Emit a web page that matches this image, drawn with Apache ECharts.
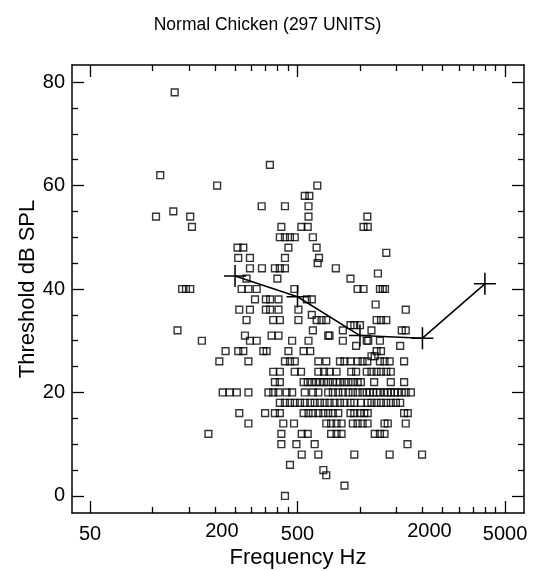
<!DOCTYPE html>
<html>
<head>
<meta charset="utf-8">
<script src="https://cdn.jsdelivr.net/npm/echarts@6/dist/echarts.min.js"></script>
<style>
  html, body { margin: 0; padding: 0; background: #fff; }
  #chart { width: 535px; height: 571px; }
</style>
</head>
<body>
<div id="chart"></div>
<script>
// ---------------- DATA ----------------
// Threshold rows (dB SPL) and the characteristic frequencies (Hz) of the units on each row
const rowThresholdDb = [78, 64, 62, 60, 58, 56, 55, 54, 52, 50, 48, 47, 46, 45, 44, 43, 42, 40, 38, 37, 36, 35, 34, 33, 32, 31, 30, 29, 28, 27, 26, 24, 22, 20, 18, 16, 14, 12, 10, 8, 6, 5, 4, 2, 0];
const rowFreqHz = [
  [128],
  [368],
  [109],
  [205, 623],
  [542, 570],
  [336, 435, 565],
  [126],
  [104, 152, 565, 1085],
  [155, 418, 522, 560, 1040, 1090],
  [411, 435, 460, 485, 593],
  [257, 274, 452, 618],
  [1339],
  [259, 295, 435, 635],
  [625],
  [295, 337, 389, 411, 435, 765],
  [1220],
  [284, 400, 900],
  [139, 145, 152, 269, 290, 318, 483, 974, 1040, 1248, 1287, 1320],
  [312, 352, 369, 405, 554, 586],
  [1190],
  [262, 295, 352, 369, 405, 505, 1662],
  [586],
  [284, 382, 411, 505, 618, 653, 688, 1203, 1263, 1339],
  [900, 939, 1000],
  [132, 593, 827, 1136, 1590, 1662],
  [279, 375, 405, 703, 713],
  [173, 295, 318, 471, 565, 827, 1078, 1096, 1248],
  [958, 1562],
  [225, 259, 274, 342, 355, 452, 535, 576, 1203, 1263],
  [1136, 1178],
  [210, 290, 435, 460, 485, 630, 688, 801, 842, 900, 974, 1029, 1085, 1248, 1313, 1390, 1632],
  [382, 411, 485, 520, 630, 671, 713, 771, 907, 958, 1078, 1136, 1203, 1263, 1339, 1408],
  [389, 411, 535, 560, 586, 614, 641, 671, 703, 740, 771, 801, 842, 880, 924, 974, 1010, 1170, 1408, 1632],
  [218, 235, 255, 290, 362, 382, 405, 443, 471, 542, 593, 630, 703, 740, 786, 827, 880, 924, 974, 1029, 1077, 1116, 1157, 1203, 1248, 1313, 1361, 1408, 1464, 1520, 1590, 1662, 1760],
  [411, 435, 460, 485, 514, 542, 576, 605, 641, 675, 713, 754, 801, 842, 900, 939, 1010, 1088, 1136, 1203, 1263, 1339, 1408, 1490, 1562],
  [262, 349, 389, 411, 535, 565, 593, 630, 666, 703, 740, 786, 900, 939, 1000, 1049, 1090, 1632, 1700],
  [290, 427, 481, 688, 726, 771, 815, 924, 974, 1029, 1088, 1313, 1361, 1662],
  [186, 418, 524, 560, 726, 771, 815, 1178, 1248, 1313],
  [418, 494, 605, 1694],
  [524, 630, 939, 1390, 1992],
  [460],
  [666],
  [688],
  [842],
  [435]
];

// Mean threshold curve at octave frequencies
const meanFreqHz = [250, 500, 1000, 2000, 4000];
const meanThresholdDb = [42.5, 38.5, 31, 30.5, 41];

// Tick labels
const xMajorLabelsHz = [50, 500, 5000];
const xMinorLabelsHz = [200, 2000];
const xMajorTicksHz = [50, 500, 5000];
const xMinorTicksHz = [100, 150, 200, 250, 300, 350, 400, 450, 1000, 1500, 2000, 2500, 3000, 3500, 4000, 4500];
const yMajorTicks = [0, 20, 40, 60, 80];
const yMinorTicks = [5, 10, 15, 25, 30, 35, 45, 50, 55, 65, 70, 75];

// ---------------- CHART ----------------
const lg = v => Math.log10(v);
const X_MIN = 1.6122, X_MAX = 3.7905;
const Y_MIN = -3.3, Y_MAX = 83.3;
const FONT = '"Liberation Sans", Arial, Helvetica, sans-serif';
const BLACK = '#000';

const unitData = [];
rowThresholdDb.forEach((db, i) => {
  rowFreqHz[i].forEach(f => unitData.push([lg(f), db]));
});
const meanData = meanFreqHz.map((f, i) => [lg(f), meanThresholdDb[i]]);

function axisX(position, opts) {
  return Object.assign({
    type: 'value', position: position, min: X_MIN, max: X_MAX,
    axisLine: { show: false, onZero: false },
    splitLine: { show: false },
    axisLabel: { show: false },
    axisTick: { show: false }
  }, opts);
}
function axisY(position, opts) {
  return Object.assign({
    type: 'value', position: position, min: Y_MIN, max: Y_MAX,
    axisLine: { show: false, onZero: false },
    splitLine: { show: false },
    axisLabel: { show: false },
    axisTick: { show: false }
  }, opts);
}
const lineStyle = { color: BLACK, width: 1.5 };
const tickStyle = { color: BLACK, width: 1.3 };
const labelStyle = { color: BLACK, fontSize: 20, fontFamily: FONT };
const nameStyle = { color: BLACK, fontSize: 22, fontFamily: FONT };

const option = {
  animation: false,
  backgroundColor: '#fff',
  title: {
    text: 'Normal Chicken (297 UNITS)',
    left: 'center',
    top: 11,
    textStyle: { color: BLACK, fontSize: 17.5, fontWeight: 'normal', fontFamily: FONT }
  },
  grid: { left: 72, top: 65, width: 452, height: 448, containLabel: false, outerBoundsMode: 'none' },
  xAxis: [
    axisX('bottom', {
      axisLine: { show: true, onZero: false, lineStyle: lineStyle },
      axisTick: { show: true, inside: true, length: 12, lineStyle: tickStyle, customValues: xMajorTicksHz.map(lg) },
      axisLabel: Object.assign({ show: true, margin: 11, customValues: xMajorLabelsHz.map(lg),
        formatter: v => String(Math.round(Math.pow(10, v))) }, labelStyle),
      name: 'Frequency Hz', nameLocation: 'middle', nameGap: 34, nameMoveOverlap: false,
      nameTextStyle: nameStyle
    }),
    axisX('bottom', {
      axisTick: { show: true, inside: true, length: 6, lineStyle: tickStyle, customValues: xMinorTicksHz.map(lg) },
      axisLabel: Object.assign({ show: true, margin: 8, padding: [0, 0, 0, 14], customValues: xMinorLabelsHz.map(lg),
        formatter: v => String(Math.round(Math.pow(10, v))) }, labelStyle)
    }),
    axisX('top', {
      axisLine: { show: true, onZero: false, lineStyle: lineStyle },
      axisTick: { show: true, inside: true, length: 12, lineStyle: tickStyle, customValues: xMajorTicksHz.map(lg) }
    }),
    axisX('top', {
      axisTick: { show: true, inside: true, length: 6, lineStyle: tickStyle, customValues: xMinorTicksHz.map(lg) }
    })
  ],
  yAxis: [
    axisY('left', {
      axisLine: { show: true, onZero: false, lineStyle: lineStyle },
      axisTick: { show: true, inside: true, length: 12, lineStyle: tickStyle, customValues: yMajorTicks },
      axisLabel: Object.assign({ show: true, margin: 7, customValues: yMajorTicks }, labelStyle),
      name: 'Threshold dB SPL', nameLocation: 'middle', nameGap: 33, nameMoveOverlap: false,
      nameTextStyle: nameStyle
    }),
    axisY('left', {
      axisTick: { show: true, inside: true, length: 6, lineStyle: tickStyle, customValues: yMinorTicks }
    }),
    axisY('right', {
      axisLine: { show: true, onZero: false, lineStyle: lineStyle },
      axisTick: { show: true, inside: true, length: 12, lineStyle: tickStyle, customValues: yMajorTicks }
    }),
    axisY('right', {
      axisTick: { show: true, inside: true, length: 6, lineStyle: tickStyle, customValues: yMinorTicks }
    })
  ],
  series: [
    {
      type: 'scatter',
      xAxisIndex: 0, yAxisIndex: 0,
      data: unitData,
      symbol: 'rect',
      symbolSize: 6.8,
      itemStyle: { color: 'rgba(255,255,255,0)', borderColor: BLACK, borderWidth: 1.4 },
      emphasis: { disabled: true },
      silent: true
    },
    {
      type: 'line',
      xAxisIndex: 0, yAxisIndex: 0,
      data: meanData,
      symbol: 'path://M9.3,0H10.7V9.3H20V10.7H10.7V20H9.3V10.7H0V9.3H9.3Z',
      symbolSize: 22,
      showSymbol: true,
      itemStyle: { color: BLACK },
      lineStyle: { color: BLACK, width: 1.5 },
      emphasis: { disabled: true },
      silent: true
    }
  ]
};

const chart = echarts.init(document.getElementById('chart'), null, { renderer: 'canvas' });
chart.setOption(option);
</script>
</body>
</html>
